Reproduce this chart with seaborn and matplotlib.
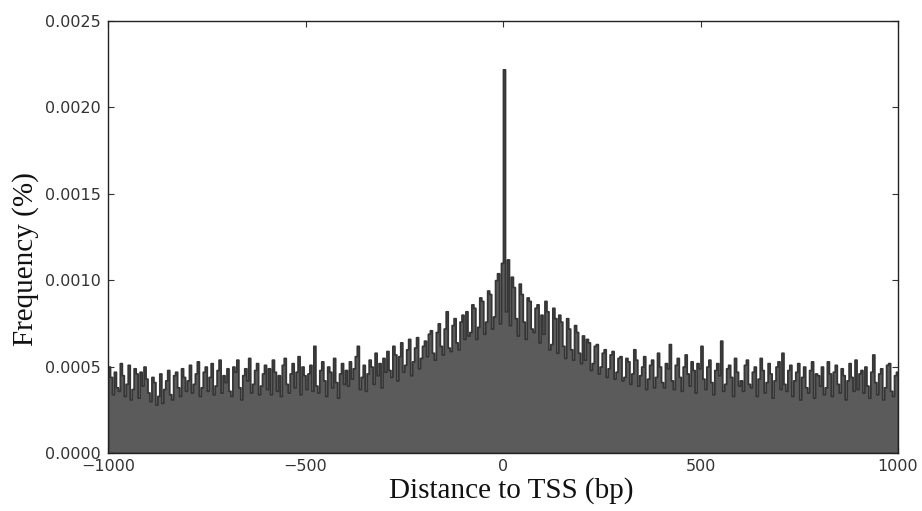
import numpy as np
import pandas as pd
import matplotlib
matplotlib.use("Agg")
import matplotlib.pyplot as plt
import seaborn as sns

# Histogram of distances to TSS, 5-bp bins from -1000 to 1000 (values in units of 1e-5)
bin_start = -1000
bin_width = 5
freq_e5 = [
    50, 44, 34, 47, 38, 36, 52, 45, 33, 40, 51, 31, 37, 49, 46, 32, 47, 39, 50, 43,
    35, 30, 44, 41, 28, 33, 46, 29, 37, 42, 48, 34, 31, 45, 47, 38, 33, 49, 44, 36,
    42, 51, 35, 40, 46, 53, 33, 38, 47, 50, 36, 44, 52, 34, 39, 48, 54, 35, 45, 41,
    49, 36, 33, 50, 47, 54, 38, 31, 45, 49, 42, 55, 35, 40, 48, 52, 34, 39, 46, 51,
    37, 49, 34, 54, 47, 36, 45, 33, 51, 55, 40, 35, 46, 52, 38, 47, 56, 34, 50, 45,
    37, 46, 51, 36, 62, 39, 35, 48, 53, 42, 33, 50, 47, 38, 55, 41, 32, 46, 52, 40,
    48, 39, 53, 43, 49, 56, 62, 37, 44, 51, 36, 46, 54, 50, 40, 58, 45, 52, 38, 55,
    47, 59, 48, 44, 62, 57, 42, 56, 64, 47, 51, 60, 66, 45, 53, 61, 67, 49, 55, 62,
    65, 56, 69, 71, 58, 54, 70, 75, 62, 57, 72, 82, 61, 59, 74, 78, 64, 60, 76, 80,
    66, 82, 68, 70, 86, 84, 66, 73, 90, 88, 69, 76, 94, 92, 72, 79, 100, 104, 75, 110,
    222, 82, 112, 74, 102, 96, 78, 68, 98, 92, 76, 66, 90, 88, 72, 70, 84, 86, 64, 80,
    69, 88, 82, 60, 63, 84, 78, 58, 80, 76, 62, 55, 78, 72, 60, 54, 74, 70, 58, 52,
    68, 54, 66, 64, 48, 52, 62, 63, 46, 50, 58, 60, 44, 49, 57, 59, 43, 47, 55, 56,
    42, 44, 55, 53, 40, 46, 60, 54, 39, 45, 50, 56, 37, 43, 51, 54, 38, 44, 58, 50,
    41, 38, 52, 49, 63, 42, 37, 51, 55, 44, 36, 50, 57, 46, 39, 53, 48, 35, 52, 49,
    62, 43, 37, 50, 54, 41, 34, 48, 52, 45, 65, 36, 40, 49, 51, 44, 33, 55, 47, 39,
    42, 36, 51, 54, 40, 38, 47, 50, 33, 43, 55, 48, 35, 41, 52, 46, 32, 42, 50, 53,
    37, 58, 40, 36, 48, 51, 33, 42, 47, 52, 31, 44, 50, 38, 35, 48, 53, 32, 46, 45,
    39, 50, 34, 38, 53, 46, 33, 47, 51, 40, 35, 49, 45, 31, 42, 52, 44, 36, 54, 37,
    46, 48, 35, 50, 39, 32, 47, 57, 41, 34, 46, 49, 31, 38, 51, 52, 36, 33, 45, 47,
]
x_ticks = [-1000, -500, 0, 500, 1000]
x_tick_labels = ["\u22121000", "\u2212500", "0", "500", "1000"]
y_ticks = [0.0, 0.0005, 0.0010, 0.0015, 0.0020, 0.0025]
y_tick_labels = ["0.0000", "0.0005", "0.0010", "0.0015", "0.0020", "0.0025"]
x_label = "Distance to TSS (bp)"
y_label = "Frequency (%)"

n = len(freq_e5)
df = pd.DataFrame({
    "pos": bin_start + bin_width * np.arange(n) + bin_width / 2.0,
    "freq": np.array(freq_e5, dtype=float) * 1e-5,
})

sns.set_style("ticks", {
    "xtick.direction": "in", "ytick.direction": "in",
    "axes.edgecolor": "#222222",
})
plt.rcParams["font.family"] = ["DejaVu Sans"]

fig = plt.figure(figsize=(9.22, 5.11), dpi=100)
ax = fig.add_axes([108 / 922, 58 / 511, 790 / 922, 432 / 511])

sns.histplot(data=df, x="pos", weights="freq",
             binwidth=bin_width, binrange=(bin_start, bin_start + bin_width * n),
             element="step", fill=True, color="#5a5a5a", alpha=1.0,
             ax=ax)
# style the outline of the step histogram
for coll in ax.collections:
    coll.set_edgecolor("#363636")
    coll.set_linewidth(1.3)
    coll.set_facecolor("#5b5b5b")

ax.set_xlim(-1000, 1000)
ax.set_ylim(0, 0.0025)
ax.set_xticks(x_ticks)
ax.set_xticklabels(x_tick_labels)
ax.set_yticks(y_ticks)
ax.set_yticklabels(y_tick_labels)
ax.tick_params(axis="both", which="both", direction="in", top=True, right=True,
               length=4, width=0.8, color="#333333", labelsize=11.5,
               labelcolor="#333333")
ax.tick_params(axis="y", pad=5)
ax.tick_params(axis="x", pad=4)
for s in ax.spines.values():
    s.set_visible(True)
    s.set_linewidth(1.0)
    s.set_color("#222222")

ax.set_xlabel(x_label, family=["Liberation Serif", "DejaVu Serif"], fontsize=21,
              color="#111111")
ax.set_ylabel(y_label, family=["Liberation Serif", "DejaVu Serif"], fontsize=21,
              color="#111111")
ax.xaxis.set_label_coords(0.510, -0.056)
ax.yaxis.set_label_coords(-0.087, 0.449)

fig.savefig("out.png", dpi=100)
